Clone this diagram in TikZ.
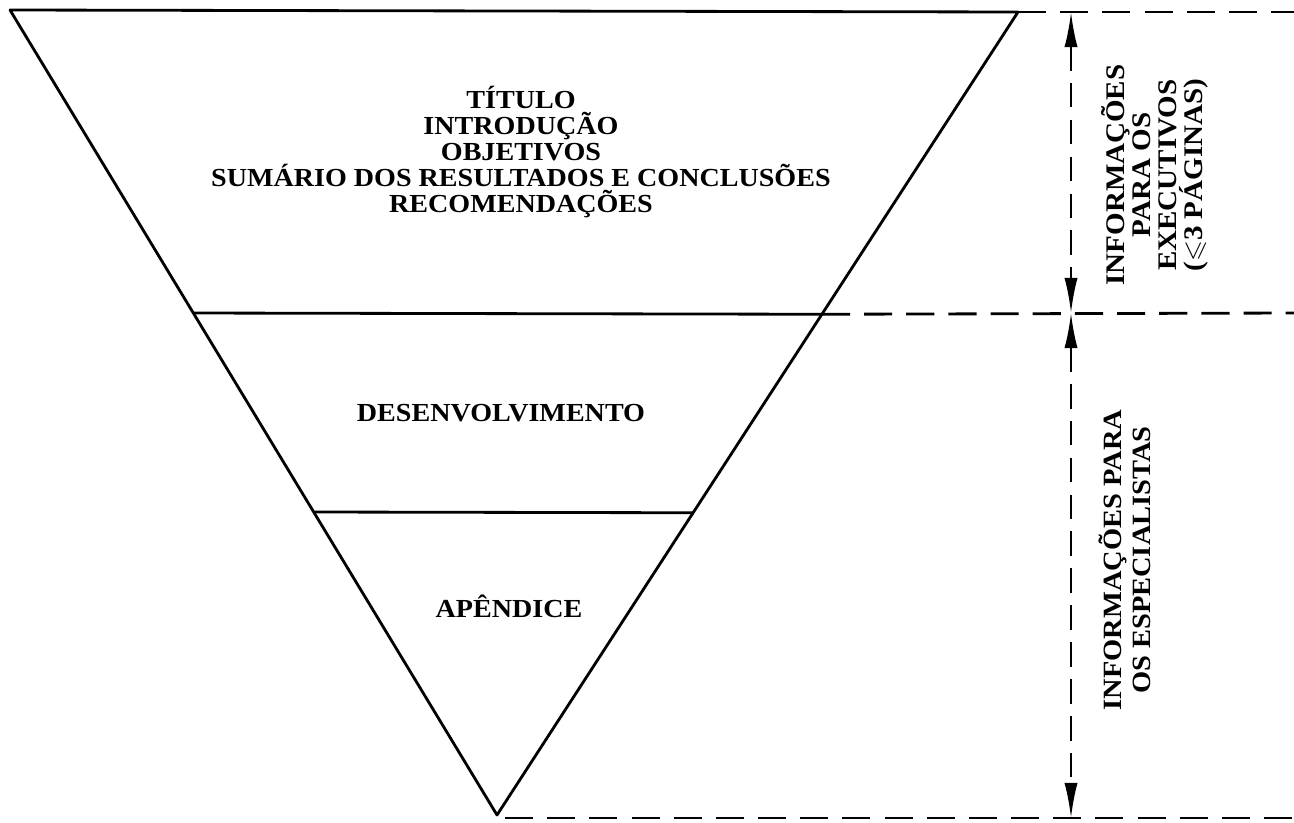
\documentclass[tikz,border=0pt]{standalone}
\usepackage{amsmath,amssymb}
\usepackage{fontspec}
\setmainfont{Liberation Serif}[FakeStretch=1.08, UprightFont=*-Bold]
\usetikzlibrary{arrows.meta,calc}

\tikzset{
  funnel/.style={line width=1.6pt, line join=round},
  guide/.style={line width=1.6pt, dash pattern=on 16pt off 8pt},
  span/.style={line width=1.3pt, dash pattern=on 14pt off 7pt,
    {Latex[length=20pt,width=7.5pt]}-{Latex[length=20pt,width=7.5pt]}},
  txt/.style={align=center, inner sep=0pt, font=\fontsize{14.8}{14.8}\selectfont},
  sidetxt/.style={txt, rotate=90},
}

\begin{document}
\begin{tikzpicture}[x=0.02cm, y=-0.02cm]
    \useasboundingbox (0,0) rectangle (1294,822);
    % corners of the funnel
    \coordinate (topleft) at (10,10);
    \coordinate (topright) at (1018,12);
    \coordinate (apex) at (497,815);
    \coordinate (cutAl) at ($(topleft)!0.3764!(apex)$);
    \coordinate (cutAr) at ($(topright)!0.3764!(apex)$);
    \coordinate (cutBl) at ($(topleft)!0.6236!(apex)$);
    \coordinate (cutBr) at ($(topright)!0.6236!(apex)$);
    \draw[funnel] (topleft) -- (topright) -- (apex) -- cycle;
    \draw[funnel] (cutAl) -- (cutAr);
    \draw[funnel] (cutBl) -- (cutBr);

    % guide lines on the right
    \coordinate (gtop) at (1071,12);
    \coordinate (gmid) at (1071,313);
    \coordinate (gbot) at (1071,818);
    \draw[guide] (topright) -- (1294,12);
    \draw[guide] (cutAr) -- (1294,313);
    \draw[guide] (505,818) -- (1294,818);
    \draw[span] (gtop) -- (gmid);
    \draw[span] (gmid) -- (gbot);

    % texts
    \node[txt] (front) at (521,152)
      {TÍTULO\\INTRODUÇÃO\\OBJETIVOS\\SUMÁRIO DOS RESULTADOS E CONCLUSÕES\\RECOMENDAÇÕES};
    \node[txt] (body) at (501,413) {DESENVOLVIMENTO};
    \node[txt] (annex) at (509,606) {APÊNDICE};
    \node[sidetxt, font=\fontsize{15.3}{14.8}\selectfont] (execs) at (1155,175)
      {INFORMAÇÕES\\PARA OS\\EXECUTIVOS\\($\leqslant$3 PÁGINAS)};
    \node[sidetxt, font=\fontsize{15}{16.4}\selectfont] (experts) at (1125,560)
      {INFORMAÇÕES PARA\\OS ESPECIALISTAS};
\end{tikzpicture}
\end{document}
